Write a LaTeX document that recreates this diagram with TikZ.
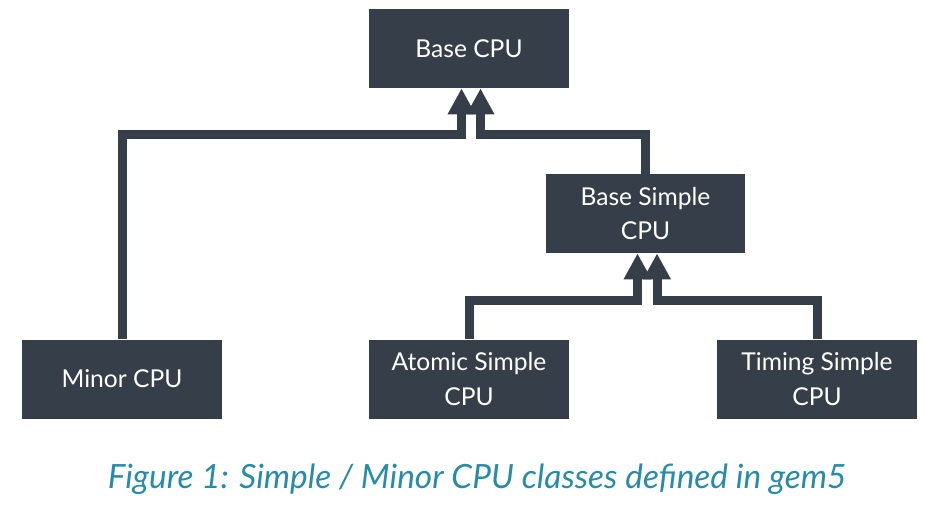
\documentclass[tikz,border=0pt]{standalone}
\usepackage{fontspec}
\setmainfont{Lato}
\usetikzlibrary{arrows.meta}
\definecolor{boxgray}{RGB}{54,63,73}
\definecolor{captionteal}{RGB}{38,140,168}
\tikzset{
  cpubox/.style = {fill=boxgray, text=white, minimum width=4cm, minimum height=1.58cm,
                   inner sep=0pt, align=center, font=\fontsize{14}{19.5}\selectfont},
  inherit/.style = {draw=boxgray, line width=0.18cm, line join=miter,
                    -{Triangle[width=0.52cm,length=0.52cm]}}
}

\begin{document}
\begin{tikzpicture}[x=0.02cm, y=-0.02cm]
\useasboundingbox (0,0) rectangle (925,511);
% class boxes
\path (469,48.5) node[cpubox] (base) {Base CPU};
\path (645.5,213.5) node[cpubox] (bsimple) {Base Simple\\CPU};
\path (122,379) node[cpubox] (minor) {Minor CPU};
\path (469,379) node[cpubox] (atomic) {Atomic Simple\\CPU};
\path (817,379) node[cpubox] (timing) {Timing Simple\\CPU};
% bends of the connectors
\coordinate (jminor) at (461.5,134.5);
\coordinate (jbsimple) at (480.5,134.5);
\coordinate (jatomic) at (637.5,300.5);
\coordinate (jtiming) at (657,300.5);
% inheritance arrows
\draw[inherit] (minor.north) |- (jminor) -- (jminor |- base.south);
\draw[inherit] (bsimple.north) |- (jbsimple) -- (jbsimple |- base.south);
\draw[inherit] (atomic.north) |- (jatomic) -- (jatomic |- bsimple.south);
\draw[inherit] (timing.north) |- (jtiming) -- (jtiming |- bsimple.south);
\path (477,479) node[text=captionteal, font=\fontsize{19}{23}\selectfont\itshape] (caption)
  {Figure 1: Simple / Minor CPU classes defined in gem5};
\end{tikzpicture}
\end{document}
